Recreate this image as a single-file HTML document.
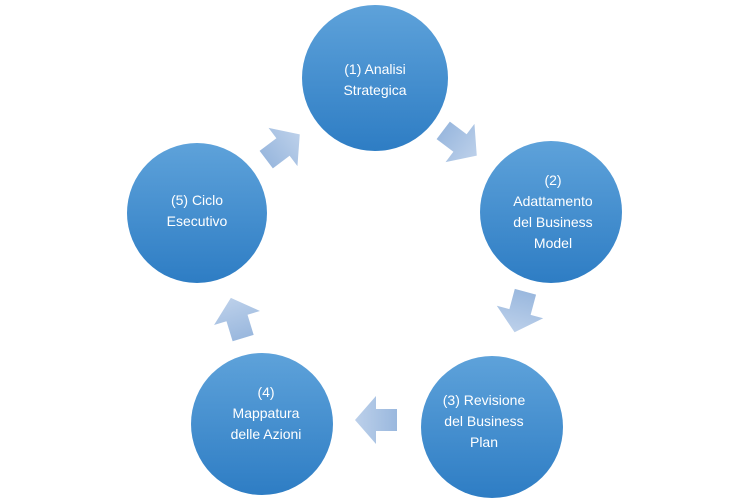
<!DOCTYPE html>
<html><head><meta charset="utf-8"><style>
html,body{margin:0;padding:0;background:#fff;}
svg{display:block;}
text{font-family:"Liberation Sans",sans-serif;font-size:14px;fill:#fff;text-anchor:middle;}
</style></head><body>
<svg width="750" height="500" viewBox="0 0 750 500">
<defs>
<linearGradient id="c" x1="0" y1="0" x2="0" y2="1">
<stop offset="0" stop-color="#5ea2da"/><stop offset="1" stop-color="#2e7dc4"/>
</linearGradient>
<linearGradient id="a" x1="0" y1="0" x2="1" y2="0">
<stop offset="0" stop-color="#9ab8de"/><stop offset="1" stop-color="#bcd0ea"/>
</linearGradient>
<g id="ar"><polygon points="-21,-11 0,-11 0,-24 21,0 0,24 0,11 -21,11" fill="url(#a)"/></g>
</defs>
<circle cx="375" cy="78" r="73" fill="url(#c)"/>
<circle cx="551" cy="212" r="71" fill="url(#c)"/>
<circle cx="492" cy="427" r="71" fill="url(#c)"/>
<circle cx="262" cy="424" r="71" fill="url(#c)"/>
<circle cx="197" cy="213" r="70" fill="url(#c)"/>
<use href="#ar" transform="translate(283,147) rotate(-37)"/>
<use href="#ar" transform="translate(460,143) rotate(37)"/>
<use href="#ar" transform="translate(520,312) rotate(105)"/>
<use href="#ar" transform="translate(376,420) rotate(180)"/>
<use href="#ar" transform="translate(237,318) rotate(-107)"/>
<text x="375" y="74">(1) Analisi</text>
<text x="375" y="95">Strategica</text>
<text x="553" y="185">(2)</text>
<text x="553" y="206">Adattamento</text>
<text x="553" y="227">del Business</text>
<text x="553" y="248">Model</text>
<text x="484" y="405">(3) Revisione</text>
<text x="484" y="426">del Business</text>
<text x="484" y="447">Plan</text>
<text x="266" y="397">(4)</text>
<text x="266" y="418">Mappatura</text>
<text x="266" y="439">delle Azioni</text>
<text x="197" y="205">(5) Ciclo</text>
<text x="197" y="226">Esecutivo</text>
</svg>
</body></html>
